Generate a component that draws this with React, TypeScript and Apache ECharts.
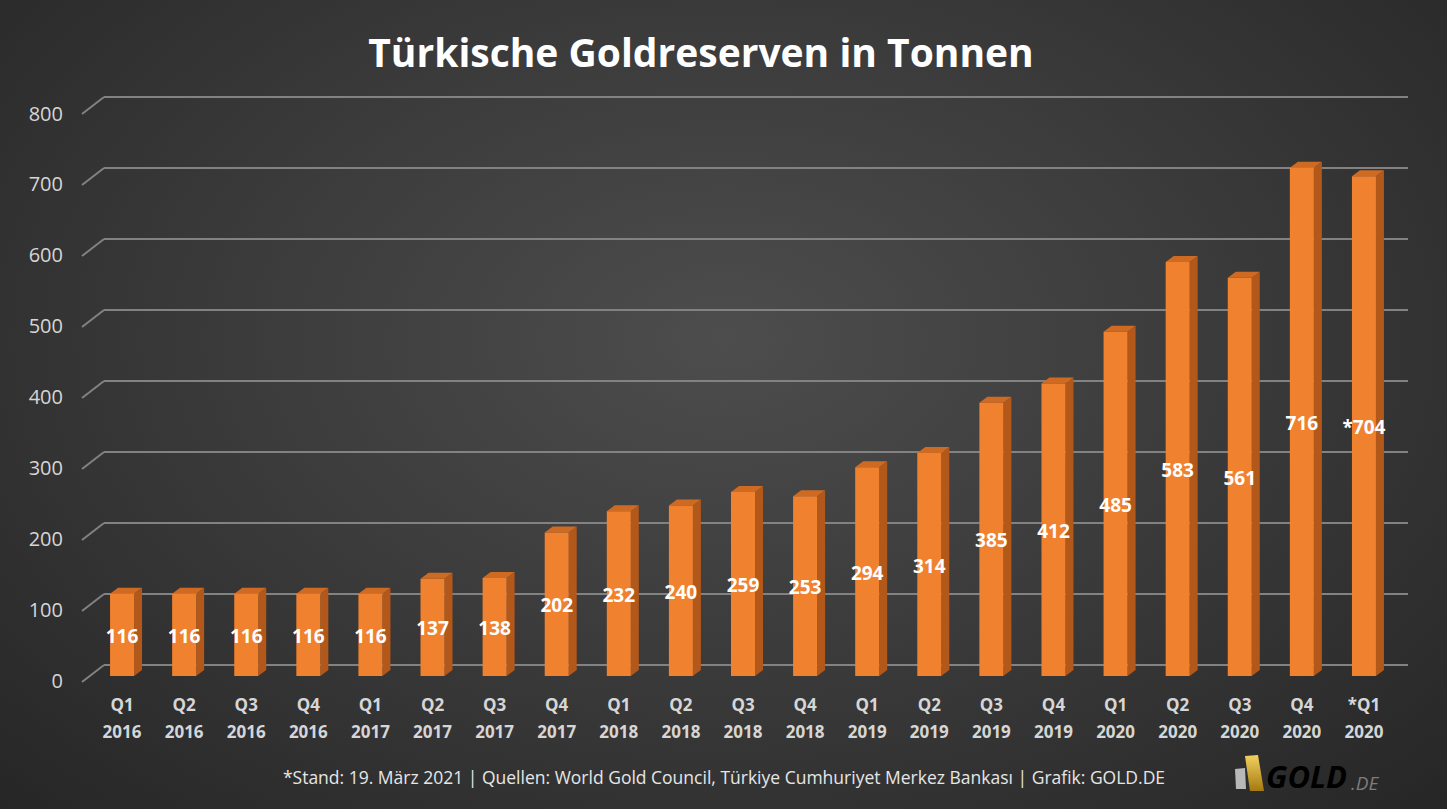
import React, { useEffect, useRef } from "react";
import * as echarts from "echarts";

const quarters = ["Q1", "Q2", "Q3", "Q4", "Q1", "Q2", "Q3", "Q4", "Q1", "Q2", "Q3", "Q4", "Q1", "Q2", "Q3", "Q4", "Q1", "Q2", "Q3", "Q4", "*Q1"];
const years = ["2016", "2016", "2016", "2016", "2017", "2017", "2017", "2017", "2018", "2018", "2018", "2018", "2019", "2019", "2019", "2019", "2020", "2020", "2020", "2020", "2020"];
const tonnes = [116, 116, 116, 116, 116, 137, 138, 202, 232, 240, 259, 253, 294, 314, 385, 412, 485, 583, 561, 716, 704];
const valuePrefix = ["", "", "", "", "", "", "", "", "", "", "", "", "", "", "", "", "", "", "", "", "*"];
const yTicks = [0, 100, 200, 300, 400, 500, 600, 700, 800];

const titleText = "Türkische Goldreserven in Tonnen";
const footerText = "*Stand: 19. März 2021 | Quellen: World Gold Council, Türkiye Cumhuriyet Merkez Bankası | Grafik: GOLD.DE";

const FONT = '"Open Sans", "Noto Sans", sans-serif';

export default function App() {
  const ref = useRef<HTMLDivElement>(null);
  useEffect(() => {
    document.body.style.margin = "0";
    if (!ref.current) return;
    const chart = echarts.init(ref.current, undefined, { renderer: "svg" });
    const categories = quarters.map((q, i) => q + "\n" + years[i]);
    const FRONT_DX = -13;
    const FRONT_DY = 11;
    const BAR_W = 24;
    const DEPTH_X = 8;
    const DEPTH_Y = -6;

    const option: any = {
      animation: false,
      backgroundColor: "transparent",
      grid: [
        { left: 104, right: 39, top: 97, bottom: 144 },
        { left: 91, right: 52, top: 113, bottom: 129 },
      ],
      xAxis: [
        {
          gridIndex: 0,
          type: "category",
          data: categories,
          axisLine: { show: false },
          axisTick: { show: false },
          axisLabel: { show: false },
        },
        {
          gridIndex: 1,
          type: "category",
          data: categories,
          axisLine: { show: false },
          axisTick: { show: false },
          axisLabel: {
            color: "#d6d6d6",
            fontSize: 17,
            fontWeight: "bold",
            fontFamily: FONT,
            lineHeight: 27,
            margin: 11,
            interval: 0,
          },
        },
      ],
      yAxis: [
        {
          gridIndex: 0,
          type: "value",
          min: 0,
          max: 800,
          interval: 100,
          axisLine: { show: false },
          axisTick: { show: false },
          axisLabel: { show: false },
          splitLine: { show: true, lineStyle: { color: "#828282", width: 2 } },
        },
        {
          gridIndex: 1,
          type: "value",
          min: 0,
          max: 800,
          interval: 100,
          axisLine: { show: false },
          axisTick: { show: false },
          splitLine: { show: false },
          axisLabel: {
            color: "#d6d6d6",
            fontSize: 20,
            fontFamily: FONT,
            margin: 28,
          },
        },
      ],
      series: [
        {
          type: "custom",
          xAxisIndex: 0,
          yAxisIndex: 0,
          data: yTicks.map((t) => [0, t]),
          encode: { x: 0, y: 1 },
          silent: true,
          renderItem: (params: any, api: any) => {
            const p = api.coord([0, api.value(1)]);
            const x0 = params.coordSys.x;
            return {
              type: "line",
              shape: { x1: x0, y1: p[1], x2: x0 - 22, y2: p[1] + 17 },
              style: { stroke: "#828282", lineWidth: 2 },
            };
          },
        },
        {
          type: "custom",
          xAxisIndex: 0,
          yAxisIndex: 0,
          data: tonnes.map((v, i) => [i, v]),
          encode: { x: 0, y: 1 },
          renderItem: (params: any, api: any) => {
            const i = api.value(0);
            const v = api.value(1);
            const top = api.coord([i, v]);
            const base = api.coord([i, 0]);
            const fx = top[0] + FRONT_DX;
            const x0 = fx - BAR_W / 2;
            const x1 = fx + BAR_W / 2;
            const yT = top[1] + FRONT_DY;
            const yB = base[1] + FRONT_DY;
            return {
              type: "group",
              children: [
                {
                  type: "polygon",
                  shape: { points: [[x1, yT], [x1 + DEPTH_X, yT + DEPTH_Y], [x1 + DEPTH_X, yB + DEPTH_Y], [x1, yB]] },
                  style: { fill: "#b3581b" },
                },
                {
                  type: "polygon",
                  shape: { points: [[x0, yT], [x0 + DEPTH_X, yT + DEPTH_Y], [x1 + DEPTH_X, yT + DEPTH_Y], [x1, yT]] },
                  style: { fill: "#cf6a22" },
                },
                {
                  type: "rect",
                  shape: { x: x0, y: yT, width: BAR_W, height: yB - yT },
                  style: { fill: "#f0812f" },
                },
                {
                  type: "text",
                  style: {
                    text: valuePrefix[i] + String(v),
                    x: fx,
                    y: (yT + yB) / 2 + 1,
                    align: "center",
                    verticalAlign: "middle",
                    fill: "#ffffff",
                    fontSize: 19,
                    fontWeight: "bold",
                    fontFamily: FONT,
                  },
                },
              ],
            };
          },
        },
      ],
      graphic: [
        {
          type: "text",
          x: 701,
          y: 51,
          style: {
            text: titleText,
            fill: "#ffffff",
            fontSize: 39,
            fontWeight: "bold",
            fontFamily: FONT,
            align: "center",
            verticalAlign: "middle",
            shadowColor: "rgba(0,0,0,0.7)",
            shadowBlur: 4,
            shadowOffsetX: 2,
            shadowOffsetY: 2,
          },
        },
        {
          type: "text",
          x: 724,
          y: 777,
          style: {
            text: footerText,
            fill: "#e6e6e6",
            fontSize: 17.5,
            fontFamily: FONT,
            align: "center",
            verticalAlign: "middle",
          },
        },
        {
          type: "polygon",
          shape: { points: [[1235, 769], [1245, 768], [1246, 789], [1236, 789]] },
          style: { fill: "#b8b8b8" },
        },
        {
          type: "polygon",
          shape: { points: [[1245, 756], [1258, 755], [1264, 791], [1250, 791]] },
          style: {
            fill: {
              type: "linear",
              x: 0,
              y: 0,
              x2: 0,
              y2: 1,
              colorStops: [
                { offset: 0, color: "#f2d060" },
                { offset: 1, color: "#a57a10" },
              ],
            },
          },
        },
        {
          type: "text",
          x: 1266,
          y: 791,
          style: {
            text: "GOLD",
            fill: {
              type: "linear",
              x: 0,
              y: 0,
              x2: 0,
              y2: 1,
              colorStops: [
                { offset: 0, color: "#f0cc55" },
                { offset: 1, color: "#b08414" },
              ],
            },
            fontSize: 31,
            fontWeight: "bold",
            fontStyle: "italic",
            fontFamily: FONT,
            verticalAlign: "bottom",
          },
        },
        {
          type: "text",
          x: 1351,
          y: 792,
          style: {
            text: ".DE",
            fill: "#7c7c7c",
            fontSize: 19,
            fontStyle: "italic",
            fontFamily: FONT,
            verticalAlign: "bottom",
          },
        },
      ],
    };
    chart.setOption(option);
    return () => chart.dispose();
  }, []);

  return (
    <div
      ref={ref}
      style={{
        width: 1447,
        height: 809,
        background: "radial-gradient(ellipse at 50% 42%, #4d4d4d 0%, #3c3c3c 45%, #262626 100%)",
      }}
    />
  );
}
